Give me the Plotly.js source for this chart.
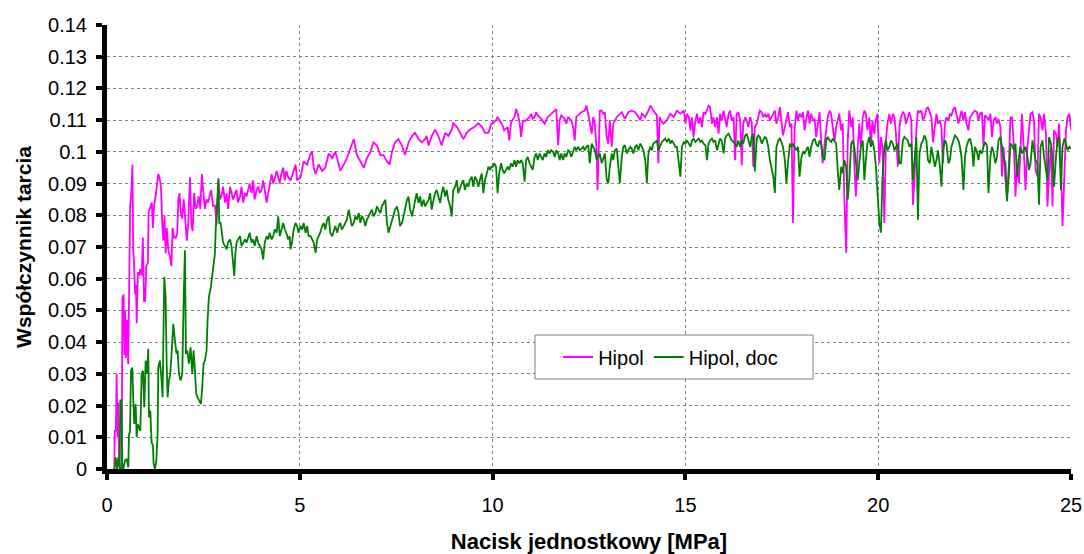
<!DOCTYPE html>
<html>
<head>
<meta charset="utf-8">
<script src="https://cdn.plot.ly/plotly-3.0.1.min.js"></script>
<style>html,body{margin:0;padding:0;background:#fff;}#chart{width:1084px;height:554px;}</style>
</head>
<body>
<div id="chart"></div>
<script>
// ---- data ----
const seriesNames = ["Hipol", "Hipol, doc"];
const xTitle = "Nacisk jednostkowy [MPa]";
const yTitle = "Współczynnik tarcia";
const xTickVals = [0, 5, 10, 15, 20, 25];
const xTickText = ["0", "5", "10", "15", "20", "25"];
const yTickVals = [0, 0.01, 0.02, 0.03, 0.04, 0.05, 0.06, 0.07, 0.08, 0.09, 0.1, 0.11, 0.12, 0.13, 0.14];
const yTickText = ["0", "0.01", "0.02", "0.03", "0.04", "0.05", "0.06", "0.07", "0.08", "0.09", "0.1", "0.11", "0.12", "0.13", "0.14"];

// Hipol (magenta): pressure [MPa]
const hipolX = [
0.19,0.20,0.23,0.25,0.27,0.29,0.31,0.34,0.38,0.40,0.43,0.45,0.47,0.49,0.52,0.55,0.58,0.60,0.63,0.66,
0.68,0.70,0.73,0.75,0.77,0.80,0.83,0.86,0.90,0.93,0.96,0.99,1.02,1.06,1.08,1.12,1.16,1.19,1.22,1.26,
1.30,1.33,1.36,1.40,1.43,1.46,1.49,1.52,1.55,1.59,1.63,1.67,1.70,1.74,1.78,1.82,1.85,1.88,1.91,1.95,
1.99,2.03,2.07,2.11,2.15,2.19,2.22,2.26,2.30,2.34,2.38,2.42,2.46,2.50,2.54,2.58,2.62,2.66,2.70,2.75,
2.80,2.84,2.89,2.93,2.97,3.01,3.06,3.10,3.14,3.19,3.23,3.27,3.36,3.40,3.45,3.49,3.53,3.58,3.62,3.70,
3.75,3.79,3.83,3.88,3.92,3.96,4.01,4.05,4.14,4.22,4.27,4.31,4.35,4.40,4.48,4.52,4.57,4.61,4.65,4.70,
4.76,4.84,4.89,4.93,5.02,5.10,5.19,5.28,5.32,5.36,5.41,5.49,5.58,5.66,5.75,5.84,5.92,5.97,6.05,6.14,
6.22,6.31,6.40,6.48,6.57,6.66,6.74,6.83,6.91,7.00,7.09,7.17,7.26,7.33,7.39,7.47,7.56,7.65,7.73,7.82,
7.91,7.99,8.08,8.16,8.25,8.29,8.34,8.42,8.51,8.59,8.68,8.77,8.85,8.94,8.98,9.07,9.16,9.24,9.33,9.41,
9.54,9.63,9.72,9.80,9.89,9.97,
10.00,10.09,10.13,10.22,10.26,10.30,10.35,10.39,10.43,10.48,10.57,10.61,10.65,10.70,10.74,10.78,10.87,10.96,11.00,11.04,
11.09,11.13,11.17,11.26,11.35,11.39,11.43,11.52,11.61,11.65,11.70,11.74,11.78,11.87,11.91,11.96,12.00,12.04,12.09,12.13,
12.17,12.26,12.30,12.39,12.43,12.48,12.52,12.57,12.61,12.65,12.70,12.72,12.76,12.78,12.83,12.87,12.91,12.96,13.00,13.04,
13.09,13.13,13.22,13.30,13.35,13.43,13.52,13.61,13.70,13.78,13.83,13.87,13.96,14.04,14.09,14.17,14.22,14.26,14.30,14.33,
14.39,14.43,14.52,14.61,14.70,14.78,14.87,14.96,
15.00,15.04,15.09,15.13,15.17,15.21,15.26,15.30,15.34,15.39,15.43,15.47,15.52,15.56,15.60,15.64,15.69,15.73,15.77,15.82,
15.86,15.90,15.94,15.99,16.03,16.07,16.12,16.16,16.20,16.25,16.29,16.33,16.37,16.42,16.46,16.50,16.55,16.59,16.63,16.68,
16.72,16.76,16.80,16.85,16.89,16.93,16.98,17.02,17.06,17.10,17.15,17.19,17.23,17.28,17.32,17.36,17.41,17.45,17.49,17.53,
17.58,17.62,17.66,17.71,17.75,17.79,17.83,17.88,17.92,17.96,18.01,18.05,18.09,18.14,18.18,18.22,18.26,18.31,18.35,18.39,
18.44,18.48,18.52,18.56,18.61,18.65,18.69,18.74,18.78,18.82,18.87,18.91,18.95,18.99,19.04,19.08,19.12,19.17,19.21,19.25,
19.30,19.34,19.38,19.42,19.47,19.51,19.55,19.60,19.64,19.68,19.72,19.77,19.81,19.85,19.90,19.94,19.98,20.03,20.07,20.11,
20.16,20.20,20.24,
20.29,20.33,20.38,20.42,20.46,20.51,20.55,20.59,20.64,20.68,20.72,20.77,20.81,20.86,20.90,20.94,20.99,21.03,21.07,21.12,
21.16,21.20,21.25,21.29,21.34,21.38,21.42,21.47,21.51,21.55,21.60,21.64,21.68,21.73,21.77,21.82,21.86,21.90,21.95,21.99,
22.03,22.08,22.12,22.16,22.21,22.25,22.29,22.34,22.38,22.43,22.47,22.51,22.56,22.60,22.64,22.69,22.73,22.77,22.82,22.86,
22.91,22.95,22.99,23.04,23.08,23.12,23.17,23.21,23.25,23.30,23.34,23.39,23.43,23.47,23.52,23.56,23.60,23.65,23.69,23.73,
23.78,23.82,23.87,23.91,23.95,24.00,24.04,24.08,24.13,24.17,24.21,24.26,24.30,24.35,24.39,24.43,24.48,24.52,24.56,24.61,
24.65,24.69,24.74,24.78,24.83,24.87,24.91,24.96,25.00];
// Hipol (magenta): friction coefficient
const hipolY = [
0.0,0.012,0.012,0.030,0.010,0.021,0.003,0.0,0.0,0.054,0.055,0.036,0.050,0.035,0.047,0.033,0.062,0.083,0.087,0.096,
0.069,0.065,0.055,0.058,0.046,0.062,0.061,0.063,0.061,0.073,0.053,0.053,0.064,0.065,0.081,0.083,0.084,0.076,0.083,0.086,
0.091,0.093,0.092,0.089,0.078,0.072,0.080,0.068,0.076,0.069,0.067,0.064,0.076,0.073,0.073,0.074,0.085,0.087,0.081,0.079,
0.085,0.077,0.072,0.078,0.092,0.077,0.075,0.087,0.082,0.083,0.086,0.082,0.093,0.087,0.082,0.085,0.084,0.086,0.088,0.083,
0.083,0.077,0.091,0.085,0.086,0.089,0.084,0.087,0.082,0.089,0.087,0.085,0.088,0.084,0.086,0.089,0.084,0.087,0.086,0.090,
0.087,0.091,0.085,0.088,0.089,0.087,0.088,0.091,0.084,0.089,0.093,0.090,0.092,0.094,0.090,0.093,0.095,0.091,0.094,0.092,
0.091,0.094,0.096,0.091,0.092,0.097,0.096,0.0995,0.100,0.095,0.093,0.096,0.094,0.095,0.0995,0.098,0.100,0.098,0.094,0.096,
0.098,0.101,0.104,0.099,0.097,0.095,0.098,0.100,0.103,0.102,0.099,0.099,0.097,0.096,0.100,0.103,0.104,0.102,0.099,0.103,
0.105,0.106,0.104,0.103,0.104,0.105,0.102,0.105,0.107,0.105,0.102,0.106,0.105,0.107,0.109,0.108,0.106,0.104,0.106,0.107,
0.108,0.109,0.108,0.106,0.106,0.109,
0.109,0.110,0.111,0.1094,0.1083,0.1068,0.1073,0.1078,0.1036,0.1094,0.111,0.1135,0.112,0.1094,0.1047,0.1094,0.110,0.111,0.112,0.1104,
0.111,0.1125,0.1115,0.1104,0.1089,0.110,0.111,0.112,0.113,0.1135,0.1021,0.110,0.1115,0.1104,0.1089,0.111,0.1104,0.110,0.1078,0.1036,
0.111,0.112,0.1125,0.113,0.1146,0.112,0.1089,0.1057,0.111,0.1089,0.100,0.088,0.1036,0.113,0.113,0.112,0.1125,0.1047,0.1026,0.110,
0.1016,0.1089,0.111,0.112,0.1125,0.1104,0.1125,0.113,0.1125,0.111,0.110,0.112,0.111,0.113,0.1146,0.113,0.112,0.1115,0.0964,0.111,
0.1094,0.1089,0.110,0.112,0.111,0.113,0.112,0.113,
0.1089,0.112,0.1109,0.1068,0.1109,0.1047,0.1099,0.112,0.1089,0.1109,0.1078,0.1125,0.112,0.1135,0.1146,0.1141,0.1089,0.1109,0.1078,0.1109,
0.1057,0.112,0.1099,0.113,0.1109,0.1078,0.112,0.113,0.1099,0.1109,0.0974,0.112,0.1125,0.1099,0.0958,0.1089,0.1109,0.1099,0.1078,0.1109,
0.1094,0.0953,0.1078,0.1089,0.1109,0.113,0.1125,0.1109,0.112,0.1109,0.112,0.1099,0.1109,0.112,0.113,0.1089,0.1109,0.1141,0.1083,0.1052,
0.1078,0.1099,0.1125,0.1078,0.1089,0.0776,0.1068,0.113,0.1099,0.112,0.1109,0.1125,0.1068,0.1109,0.113,0.1089,0.112,0.1099,0.1104,0.1047,
0.1099,0.1125,0.1036,0.0964,0.1026,0.1068,0.1109,0.113,0.112,0.1078,0.1036,0.1078,0.1099,0.112,0.1068,0.1089,0.0859,0.0682,0.1036,0.113,
0.1078,0.1109,0.0964,0.0859,0.1016,0.1089,0.1016,0.1109,0.113,0.112,0.1068,0.1109,0.1016,0.1099,0.1057,0.1099,0.112,0.0964,0.1047,0.1016,
0.0776,0.1036,0.1089,
0.112,0.1089,0.112,0.1109,0.1057,0.0953,0.1078,0.1109,0.1125,0.112,0.1089,0.1109,0.1125,0.1099,0.0833,0.0911,0.1068,0.113,0.1125,0.113,
0.1099,0.1109,0.1135,0.1141,0.112,0.1109,0.1031,0.1089,0.112,0.1089,0.1099,0.1078,0.0964,0.1089,0.1109,0.1099,0.112,0.1115,0.1135,0.1141,
0.112,0.1089,0.1109,0.113,0.1099,0.1125,0.1089,0.1068,0.1109,0.112,0.1125,0.113,0.1125,0.1099,0.112,0.1125,0.1016,0.1115,0.1109,0.1099,
0.112,0.1047,0.1099,0.1109,0.1089,0.1104,0.1078,0.0922,0.1016,0.0911,0.0854,0.0964,0.1109,0.1109,0.1016,0.0859,0.0953,0.0901,0.1026,0.112,
0.0995,0.0880,0.1016,0.1068,0.112,0.1125,0.1099,0.0943,0.0922,0.112,0.1109,0.1068,0.112,0.1057,0.0828,0.0932,0.1016,0.0828,0.1068,0.1057,
0.1016,0.1089,0.0953,0.0766,0.0964,0.1068,0.1109,0.112,0.1070];

// Hipol, doc (green): pressure [MPa]
const docX = [
0.19,0.225,0.259,0.294,0.328,0.345,0.38,0.397,0.423,0.466,0.51,0.553,0.57,0.596,0.622,0.656,0.682,0.708,0.743,0.769,
0.795,0.829,0.864,0.898,0.933,0.967,1.002,1.036,1.071,1.088,1.123,1.157,1.192,1.209,1.244,1.278,1.313,1.33,1.373,1.416,
1.442,1.485,1.52,1.546,1.572,1.606,1.641,1.675,1.718,1.762,1.805,1.831,1.865,1.908,1.952,1.986,2.021,2.047,2.081,2.125,
2.168,2.211,2.245,2.28,2.314,2.349,2.392,2.435,2.47,2.504,2.539,2.582,2.608,2.642,2.694,2.729,2.763,2.798,
2.82,2.86,2.89,2.91,2.945,2.97,3.01,3.06,3.10,3.14,3.19,3.23,3.27,3.30,3.33,3.36,3.40,3.45,3.49,3.53,
3.58,3.62,3.66,3.70,3.75,3.79,3.83,3.88,3.92,3.96,4.01,4.05,4.09,4.14,4.18,4.22,4.27,4.31,4.35,4.40,
4.44,4.48,4.52,4.57,4.61,4.65,4.70,4.74,
4.76,4.80,4.84,4.89,4.93,4.97,5.02,5.06,5.10,5.15,5.19,5.23,5.28,5.32,5.36,5.41,5.45,5.49,5.53,5.58,
5.62,5.66,5.71,5.75,5.79,5.84,5.88,5.92,5.97,6.01,6.05,6.09,6.14,6.18,6.22,6.27,6.31,6.35,6.40,6.44,
6.48,6.53,6.57,6.61,6.66,6.70,6.74,6.79,6.83,6.87,6.91,6.96,7.00,7.04,7.09,7.13,7.17,7.22,7.26,7.30,
7.35,7.39,7.43,7.47,7.52,7.56,7.60,7.65,7.69,7.73,7.78,7.82,7.86,7.91,7.95,7.99,8.03,8.08,8.12,8.16,
8.21,8.25,8.29,8.34,8.38,8.42,8.47,8.51,8.55,8.59,8.64,8.68,8.72,8.77,8.81,8.85,8.90,8.94,8.98,9.03,
9.07,9.11,9.16,9.20,9.24,9.28,9.33,9.37,9.41,9.46,9.50,9.54,9.59,9.63,9.67,9.72,9.76,9.80,9.85,9.89,
9.93,9.97,
10.00,10.04,10.09,10.13,10.17,10.22,10.26,10.30,10.35,10.39,10.43,10.48,10.52,10.57,10.61,10.65,10.70,10.74,10.78,10.83,
10.87,10.91,10.96,11.00,11.04,11.09,11.13,11.17,11.22,11.26,11.30,11.35,11.39,11.43,11.48,11.52,11.57,11.61,11.65,11.70,
11.74,11.78,11.83,11.87,11.91,11.96,12.00,12.04,12.09,12.13,12.17,12.22,12.26,12.30,12.35,12.39,12.43,12.48,12.52,12.57,
12.61,12.65,12.70,12.74,12.78,12.83,12.87,12.91,12.96,13.00,13.04,13.09,13.13,13.17,13.22,13.26,13.30,13.35,13.39,13.43,
13.48,13.52,13.57,13.61,13.65,13.70,13.74,13.78,13.83,13.87,13.91,13.96,14.00,14.04,14.09,14.13,14.17,14.22,14.26,14.30,
14.35,14.39,14.43,14.48,14.52,14.57,14.61,14.65,14.70,14.74,14.78,14.83,14.87,14.91,14.96,
15.00,15.04,15.09,15.13,15.17,15.21,15.26,15.30,15.34,15.39,15.43,15.47,15.52,15.56,15.60,15.64,15.69,15.73,15.77,15.82,
15.86,15.90,15.94,15.99,16.03,16.07,16.12,16.16,16.20,16.25,16.29,16.33,16.37,16.42,16.46,16.50,16.55,16.59,16.63,16.68,
16.72,16.76,16.80,16.85,16.89,16.93,16.98,17.02,17.06,17.10,17.15,17.19,17.23,17.28,17.32,17.36,17.41,17.45,17.49,17.53,
17.58,17.62,17.66,17.71,17.75,17.79,17.83,17.88,17.92,17.96,18.01,18.05,18.09,18.14,18.18,18.22,18.26,18.31,18.35,18.39,
18.44,18.48,18.52,18.56,18.61,18.65,18.69,18.74,18.78,18.82,18.87,18.91,18.95,18.99,19.04,19.08,19.12,19.17,19.21,19.25,
19.30,19.34,19.38,19.42,19.47,19.51,19.55,19.60,19.64,19.68,19.72,19.77,19.81,19.85,19.90,19.94,19.98,20.03,20.07,20.11,
20.16,20.20,20.24,
20.29,20.33,20.38,20.42,20.46,20.51,20.55,20.59,20.64,20.68,20.72,20.77,20.81,20.86,20.90,20.94,20.99,21.03,21.07,21.12,
21.16,21.20,21.25,21.29,21.34,21.38,21.42,21.47,21.51,21.55,21.60,21.64,21.68,21.73,21.77,21.82,21.86,21.90,21.95,21.99,
22.03,22.08,22.12,22.16,22.21,22.25,22.29,22.34,22.38,22.43,22.47,22.51,22.56,22.60,22.64,22.69,22.73,22.77,22.82,22.86,
22.91,22.95,22.99,23.04,23.08,23.12,23.17,23.21,23.25,23.30,23.34,23.39,23.43,23.47,23.52,23.56,23.60,23.65,23.69,23.73,
23.78,23.82,23.87,23.91,23.95,24.00,24.04,24.08,24.13,24.17,24.21,24.26,24.30,24.35,24.39,24.43,24.48,24.52,24.56,24.61,
24.65,24.69,24.74,24.78,24.83,24.87,24.91,24.96,25.00];
// Hipol, doc (green): friction coefficient
const docY = [
0.0,0.0037,0.0,0.0037,0.0,0.0216,0.0216,0.0,0.0,0.0026,0.0032,0.0005,0.011,0.0116,0.031,0.032,0.0216,0.0142,0.0205,0.010,
0.0142,0.013,0.012,0.030,0.031,0.0195,0.0342,0.030,0.0379,0.0163,0.0184,0.0084,0.0074,0.0016,0.0,0.0026,0.011,0.032,0.0342,0.0279,
0.0226,0.0605,0.0542,0.0342,0.0226,0.0279,0.030,0.0363,0.0458,0.0405,0.0363,0.0374,0.030,0.0279,0.030,0.0521,0.069,0.0363,0.0374,0.0332,
0.0384,0.030,0.0374,0.031,0.0237,0.0226,0.0216,0.0205,0.0258,0.0332,0.0342,0.0374,0.0468,0.0542,0.0574,0.0616,0.0658,0.0679,
0.0755,0.0828,0.0917,0.0776,0.0776,0.0755,0.0714,0.0703,0.0693,0.0714,0.0724,0.0703,0.0661,0.0609,0.0682,0.0714,0.0724,0.0734,0.0703,0.0714,
0.0724,0.0714,0.0734,0.0745,0.0714,0.0724,0.0703,0.0734,0.0714,0.0703,0.0693,0.0661,0.0714,0.0734,0.0724,0.0745,0.0724,0.0734,0.0755,0.0745,
0.0797,0.0734,0.0755,0.0776,0.0755,0.0745,0.0724,0.0734,
0.0693,0.0714,0.0755,0.0776,0.0766,0.0745,0.0766,0.0755,0.0776,0.0745,0.0766,0.0734,0.0734,0.0724,0.0714,0.0682,0.0724,0.0734,0.0745,0.0766,
0.0776,0.0755,0.0786,0.0797,0.0745,0.0734,0.0755,0.0766,0.0745,0.0766,0.0776,0.0755,0.0766,0.0776,0.0786,0.0818,0.0797,0.0766,0.0776,0.0797,
0.0786,0.0807,0.0776,0.0797,0.0786,0.0766,0.0786,0.0797,0.0807,0.0818,0.0797,0.0807,0.0828,0.0818,0.0807,0.0828,0.0839,0.0849,0.0776,0.0745,
0.0766,0.0786,0.0797,0.0818,0.0828,0.0807,0.0766,0.0776,0.0797,0.0818,0.0849,0.0859,0.0818,0.0797,0.0818,0.0849,0.087,0.0839,0.0859,0.0828,
0.0849,0.0828,0.0839,0.0849,0.087,0.0818,0.0849,0.087,0.088,0.0859,0.0839,0.087,0.089,0.0859,0.088,0.0849,0.0828,0.0796,0.088,0.089,
0.0911,0.087,0.089,0.0901,0.0911,0.088,0.0901,0.089,0.0911,0.0922,0.089,0.0922,0.0911,0.089,0.0911,0.0932,0.087,0.0911,0.0932,0.0953,
0.0943,0.0953,
0.0953,0.0964,0.0953,0.087,0.0932,0.0964,0.0943,0.0932,0.0943,0.0953,0.0943,0.0964,0.0953,0.0974,0.0953,0.0974,0.0964,0.0974,0.0964,0.0906,
0.0974,0.0984,0.0964,0.0953,0.0943,0.0984,0.0995,0.0974,0.0995,0.0984,0.0974,0.0995,0.0984,0.1005,0.0995,0.1005,0.100,0.0984,0.1005,0.0995,
0.0974,0.0995,0.0974,0.0995,0.0984,0.1005,0.100,0.0984,0.1005,0.1016,0.1005,0.1016,0.1005,0.101,0.1016,0.1005,0.1016,0.1021,0.0964,0.1026,
0.1016,0.1005,0.0974,0.0984,0.0995,0.0964,0.0984,0.0995,0.0911,0.0901,0.0953,0.0995,0.0974,0.1005,0.101,0.0964,0.0901,0.0984,0.1016,0.1021,
0.0995,0.1005,0.1016,0.101,0.0995,0.1016,0.1021,0.1005,0.1026,0.1016,0.1005,0.0974,0.0901,0.0995,0.1016,0.1005,0.1026,0.1031,0.1036,0.1005,
0.1021,0.1031,0.1036,0.1042,0.1031,0.1042,0.1026,0.1036,0.1026,0.1016,0.1016,0.0953,0.0922,0.1016,0.1031,
0.1026,0.1036,0.1026,0.1016,0.1036,0.1042,0.1031,0.1036,0.1042,0.1031,0.1036,0.1026,0.1021,0.0974,0.1026,0.1036,0.1042,0.1031,0.1036,0.1005,
0.1026,0.1042,0.1036,0.0995,0.1042,0.1052,0.1057,0.1047,0.1036,0.1031,0.1026,0.1016,0.1036,0.1016,0.1036,0.1026,0.1052,0.1057,0.1042,0.1016,
0.1047,0.1057,0.0938,0.1042,0.1052,0.1047,0.1026,0.1036,0.1047,0.1042,0.1016,0.0974,0.0953,0.0922,0.087,0.1016,0.1036,0.1042,0.1031,0.1016,
0.0974,0.0901,0.0964,0.1026,0.1016,0.1026,0.1016,0.1005,0.1016,0.0922,0.0984,0.100,0.0995,0.1005,0.1016,0.0984,0.1016,0.1036,0.1042,0.1026,
0.1016,0.1036,0.1026,0.0984,0.0974,0.1036,0.1047,0.1036,0.1031,0.1042,0.1031,0.1026,0.0943,0.088,0.0953,0.0932,0.0974,0.0953,0.0849,0.0911,
0.1026,0.1036,0.1016,0.0974,0.0911,0.0964,0.1016,0.1036,0.0911,0.0974,0.1026,0.1047,0.1016,0.1036,0.1005,0.0953,0.087,0.0776,0.0745,0.0911,
0.1016,0.1036,0.1005,
0.1016,0.1036,0.1026,0.1005,0.1016,0.1026,0.0964,0.0964,0.1036,0.1047,0.1042,0.1036,0.1016,0.1026,0.0911,0.0964,0.1047,0.0786,0.0995,0.1026,
0.1036,0.1052,0.1036,0.0974,0.0964,0.1016,0.0984,0.0953,0.0974,0.1005,0.0953,0.089,0.1005,0.1036,0.1026,0.0964,0.0974,0.1016,0.1036,0.1052,
0.1047,0.1036,0.1016,0.0984,0.088,0.0984,0.1016,0.1036,0.1042,0.1016,0.0953,0.1016,0.100,0.0974,0.1005,0.0995,0.1016,0.1031,0.1021,0.087,
0.0984,0.1016,0.100,0.0964,0.0984,0.1036,0.1047,0.1016,0.0984,0.0964,0.0844,0.0932,0.1026,0.1021,0.1005,0.1026,0.0922,0.0984,0.1016,0.0995,
0.1005,0.1016,0.0984,0.0943,0.0964,0.1036,0.1005,0.0974,0.0964,0.0833,0.1016,0.1036,0.0984,0.0943,0.0911,0.1047,0.1026,0.0984,0.089,0.0984,
0.1036,0.1047,0.088,0.1016,0.1042,0.1026,0.1005,0.1016,0.1010];

// ---- chart ----
const FONT = "Liberation Sans, Arial, sans-serif";
const traces = [
  {x: hipolX, y: hipolY, name: seriesNames[0], type: "scatter", mode: "lines",
   line: {color: "#FF00FF", width: 1.8}},
  {x: docX, y: docY, name: seriesNames[1], type: "scatter", mode: "lines",
   line: {color: "#008000", width: 1.8}}
];
const layout = {
  width: 1084, height: 554,
  margin: {l: 107, r: 13, t: 25, b: 85},
  paper_bgcolor: "#fff", plot_bgcolor: "#fff",
  font: {family: FONT, size: 20, color: "#000"},
  showlegend: true,
  legend: {x: 0.468, y: 0.2523, xanchor: "left", yanchor: "middle", orientation: "h",
           bgcolor: "rgba(0,0,0,0)", borderwidth: 0,
           font: {family: FONT, size: 20, color: "#000"}},
  // legend frame (white box with grey border, as in the reference)
  shapes: [{type: "rect", xref: "paper", yref: "paper", x0: 0.444, x1: 0.7324, y0: 0.2027, y1: 0.3018,
            line: {color: "#808080", width: 1}, fillcolor: "#fff", layer: "above"}],
  xaxis: {range: [0, 25], tickmode: "array", tickvals: xTickVals, ticktext: xTickText,
          showline: true, linecolor: "#000", linewidth: 5, zeroline: false,
          ticks: "outside", ticklen: 6, tickwidth: 4, tickcolor: "#000",
          showgrid: true, gridcolor: "#808080", griddash: "dot", gridwidth: 1,
          tickfont: {family: FONT, size: 20, color: "#000"}, ticklabelstandoff: 8,
          automargin: false,
          title: {text: xTitle, font: {family: FONT, size: 22, color: "#000", weight: "bold"}, standoff: 22}},
  yaxis: {range: [0, 0.14], tickmode: "array", tickvals: yTickVals, ticktext: yTickText,
          showline: true, linecolor: "#000", linewidth: 5, zeroline: false,
          ticks: "outside", ticklen: 6, tickwidth: 4, tickcolor: "#000",
          showgrid: true, gridcolor: "#808080", griddash: "dot", gridwidth: 1,
          tickfont: {family: FONT, size: 20, color: "#000"}, ticklabelstandoff: 5,
          automargin: false,
          title: {text: yTitle, font: {family: FONT, size: 21, color: "#000", weight: "bold"}, standoff: 12}}
};
Plotly.newPlot("chart", traces, layout, {staticPlot: true, displayModeBar: false});
</script>
</body>
</html>
